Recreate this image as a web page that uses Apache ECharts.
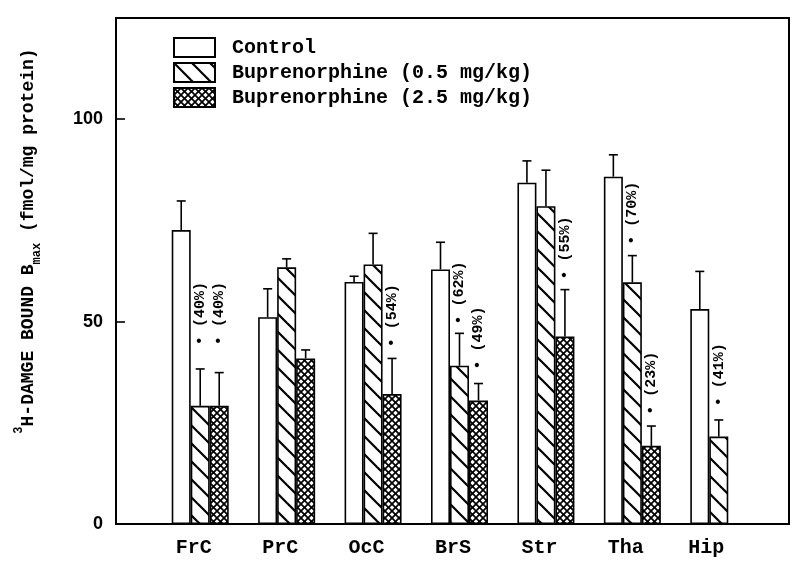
<!DOCTYPE html>
<html><head><meta charset="utf-8">
<script src="https://cdn.jsdelivr.net/npm/echarts@6/dist/echarts.min.js"></script>
<style>html,body{margin:0;padding:0;background:#fff}#c{width:800px;height:564px}</style>
</head><body><div id="c"></div>
<script>
// ---- data ----
const categories = ['FrC', 'PrC', 'OcC', 'BrS', 'Str', 'Tha', 'Hip'];
const seriesNames = ['Control', 'Buprenorphine (0.5 mg/kg)', 'Buprenorphine (2.5 mg/kg)'];
const controlMean = [72.6, 51.1, 59.8, 62.9, 84.3, 85.8, 53.1];
const controlErr  = [7.2, 7.0, 1.4, 6.7, 5.4, 5.4, 9.3];
const bup05Mean   = [29.2, 63.4, 64.1, 39.1, 78.5, 59.7, 21.6];
const bup05Err    = [9.1, 2.1, 7.7, 8.0, 8.9, 6.6, 4.1];
const bup25Mean   = [29.2, 40.9, 32.1, 30.5, 46.3, 19.3, null];
const bup25Err    = [8.2, 2.1, 8.8, 4.2, 11.6, 4.9, null];
const yTicks = [0, 50, 100];
// annotations: category, series index, text, value at marker
const annCategory = ['FrC', 'FrC', 'OcC', 'BrS', 'BrS', 'Str', 'Tha', 'Tha', 'Hip'];
const annSeries   = [1, 2, 2, 1, 2, 2, 1, 2, 1];
const annText     = ['(40%)', '(40%)', '(54%)', '(62%)', '(49%)', '(55%)', '(70%)', '(23%)', '(41%)'];
const annValue    = [45.3, 45.3, 44.8, 50.4, 39.3, 61.5, 70.1, 28.1, 30.2];

// ---- styling helpers ----
const MONO = '"Liberation Mono", "DejaVu Sans Mono", monospace';
const BAR_W = 19;

function makePattern(size, lw, cross) {
  const c = document.createElement('canvas');
  c.width = size; c.height = size;
  const g = c.getContext('2d');
  g.fillStyle = '#fff'; g.fillRect(0, 0, size, size);
  g.strokeStyle = '#000'; g.lineWidth = lw; g.lineCap = 'square';
  for (const x0 of [-size, 0, size]) {
    g.beginPath(); g.moveTo(x0, 0); g.lineTo(x0 + size, size); g.stroke();
    if (cross) { g.beginPath(); g.moveTo(x0, size); g.lineTo(x0 + size, 0); g.stroke(); }
  }
  return c;
}
const diagFill = { image: makePattern(18, 2.2, false), repeat: 'repeat' };
const crossFill = { image: makePattern(7, 1.7, true), repeat: 'repeat' };
const fills = ['#ffffff', diagFill, crossFill];

const means = [controlMean, bup05Mean, bup25Mean];
const errs = [controlErr, bup05Err, bup25Err];

const barSeries = seriesNames.map((name, k) => ({
  name, type: 'bar', xAxisIndex: 1, yAxisIndex: 1,
  barWidth: BAR_W, barGap: '0%',
  data: means[k],
  itemStyle: { color: fills[k], borderColor: '#000', borderWidth: 1.6 },
  emphasis: { disabled: true }, z: 2
}));

const errSeries = seriesNames.map((name, k) => ({
  type: 'custom', xAxisIndex: 1, yAxisIndex: 1, z: 3, silent: true,
  data: categories.map((c, i) => [i, means[k][i], errs[k][i]]),
  renderItem(params, api) {
    const i = api.value(0), m = api.value(1), s = api.value(2);
    if (m == null || isNaN(m)) return null;
    const b = api.coord([i, m]), t = api.coord([i, m + s]);
    const x = b[0] + (k - 1) * BAR_W;
    const st = { stroke: '#000', lineWidth: 1.6 };
    return { type: 'group', children: [
      { type: 'line', shape: { x1: x, y1: b[1], x2: x, y2: t[1] }, style: st },
      { type: 'line', shape: { x1: x - 4.5, y1: t[1], x2: x + 4.5, y2: t[1] }, style: st }
    ]};
  }
}));

const annSeriesObj = {
  type: 'custom', xAxisIndex: 1, yAxisIndex: 1, z: 4, silent: true,
  data: annCategory.map((c, j) => [categories.indexOf(c), annValue[j]]),
  renderItem(params, api) {
    const j = params.dataIndex;
    const p = api.coord([api.value(0), api.value(1)]);
    const x = p[0] + (annSeries[j] - 1) * BAR_W;
    return { type: 'text', x: x, y: p[1] + 4.5, rotation: Math.PI / 2,
      style: { text: '\u2022 ' + annText[j], fill: '#000',
        font: 'bold 15px ' + MONO, textAlign: 'left', textVerticalAlign: 'middle' } };
  }
};

const option = {
  backgroundColor: '#fff',
  animation: false,
  legend: {
    data: seriesNames, orient: 'vertical', left: 168, top: 32,
    icon: 'rect', itemWidth: 41, itemHeight: 19, itemGap: 4,
    selectedMode: false,
    textStyle: { fontFamily: MONO, fontWeight: 'bold', fontSize: 20, color: '#000', padding: [0, 0, 0, 12] }
  },
  grid: [
    { left: 116, right: 11, top: 18, bottom: 40, show: true, borderColor: '#000', borderWidth: 2, backgroundColor: 'transparent' },
    { left: 157, right: 38, top: 18, bottom: 40 }
  ],
  xAxis: [
    { type: 'value', gridIndex: 0, show: false, min: 0, max: 1 },
    { type: 'category', gridIndex: 1, data: categories,
      axisLine: { show: false }, axisTick: { show: false },
      axisLabel: { margin: 14,
        formatter: v => v === 'Hip' ? '{h|' + v + '}' : '{n|' + v + '}',
        rich: {
          n: { fontFamily: MONO, fontWeight: 'bold', fontSize: 20, color: '#000', padding: [0, 13, 0, 0] },
          h: { fontFamily: MONO, fontWeight: 'bold', fontSize: 20, color: '#000', padding: [0, 25, 0, 0] }
        } } }
  ],
  yAxis: [
    { type: 'value', gridIndex: 0, min: 0, max: 125, interval: 50,
      splitLine: { show: false },
      axisLine: { show: true, lineStyle: { color: '#000', width: 2 } },
      axisTick: { show: true, inside: true, length: 9, lineStyle: { color: '#000', width: 1.6 }, customValues: yTicks },
      axisLabel: { margin: 13, color: '#000', fontFamily: '"Liberation Sans", Arial, sans-serif', fontWeight: 'bold', fontSize: 18, customValues: yTicks },
      name: '{sup|3}{b|H-DAMGE BOUND B}{sub|max}{b| (fmol/mg protein)}',
      nameLocation: 'middle', nameGap: 73, nameRotate: 90,
      nameTextStyle: { padding: [0, 0, 0, 60],
        rich: {
          b: { fontFamily: MONO, fontWeight: 'bold', fontSize: 18, color: '#000', lineHeight: 30 },
          sup: { fontFamily: MONO, fontWeight: 'bold', fontSize: 12, color: '#000', lineHeight: 12, verticalAlign: 'top' },
          sub: { fontFamily: MONO, fontWeight: 'bold', fontSize: 12, color: '#000', lineHeight: 12, verticalAlign: 'bottom' }
        } } },
    { type: 'value', gridIndex: 1, min: 0, max: 125, show: false }
  ],
  series: [...barSeries, ...errSeries, annSeriesObj]
};

const chart = echarts.init(document.getElementById('c'), null, { renderer: 'canvas' });
chart.setOption(option);
</script>
</body></html>
